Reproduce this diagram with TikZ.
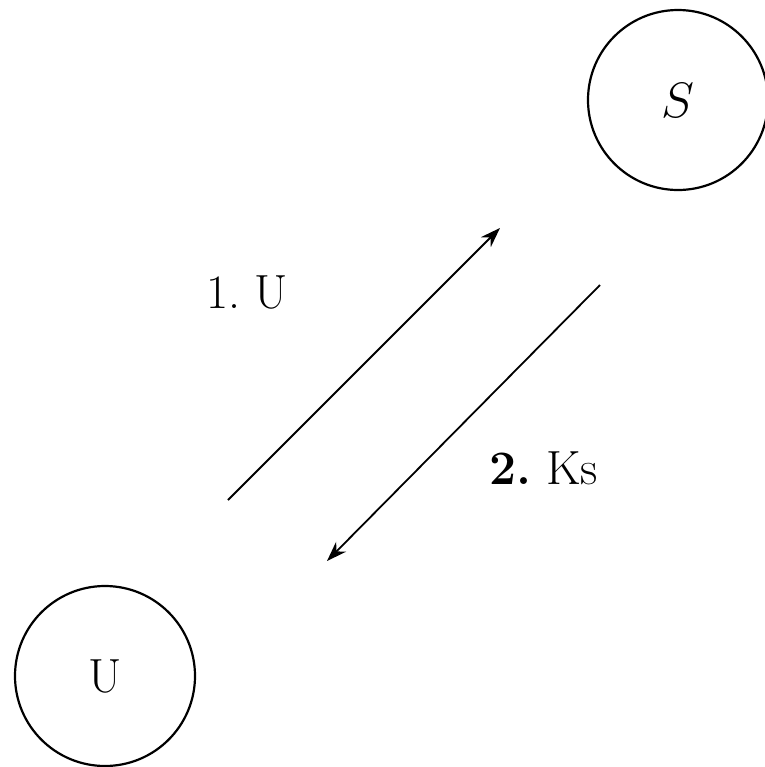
\documentclass[tikz,border=0pt]{standalone}
\usetikzlibrary{arrows.meta}
\begin{document}
\begin{tikzpicture}[x=0.5pt,y=-0.5pt,
  party/.style={draw,circle,line width=1.1pt,minimum size=90pt,inner sep=0pt},
  msg/.style={line width=0.9pt,-{Stealth[length=10pt,width=7pt]}},
  lbl/.style={font=\fontsize{24}{28}\selectfont,inner sep=0pt}]
\useasboundingbox (0,0) rectangle (765,767);
\node[party] (S) at (678,100) {\fontsize{24}{28}\selectfont$S$};
\node[party] (U) at (105,676) {\fontsize{24}{28}\selectfont U};
\coordinate (a1s) at (228,500);
\coordinate (a1e) at (500,228);
\coordinate (a2s) at (600,285);
\coordinate (a2e) at (327,561);
\draw[msg] (a1s) -- (a1e);
\draw[msg] (a2s) -- (a2e);
\node[lbl] (l1) at (247,292) {1.\ U};
\node[lbl] (l2) at (544,468) {\textbf{2.}\ Ks};
\end{tikzpicture}
\end{document}
